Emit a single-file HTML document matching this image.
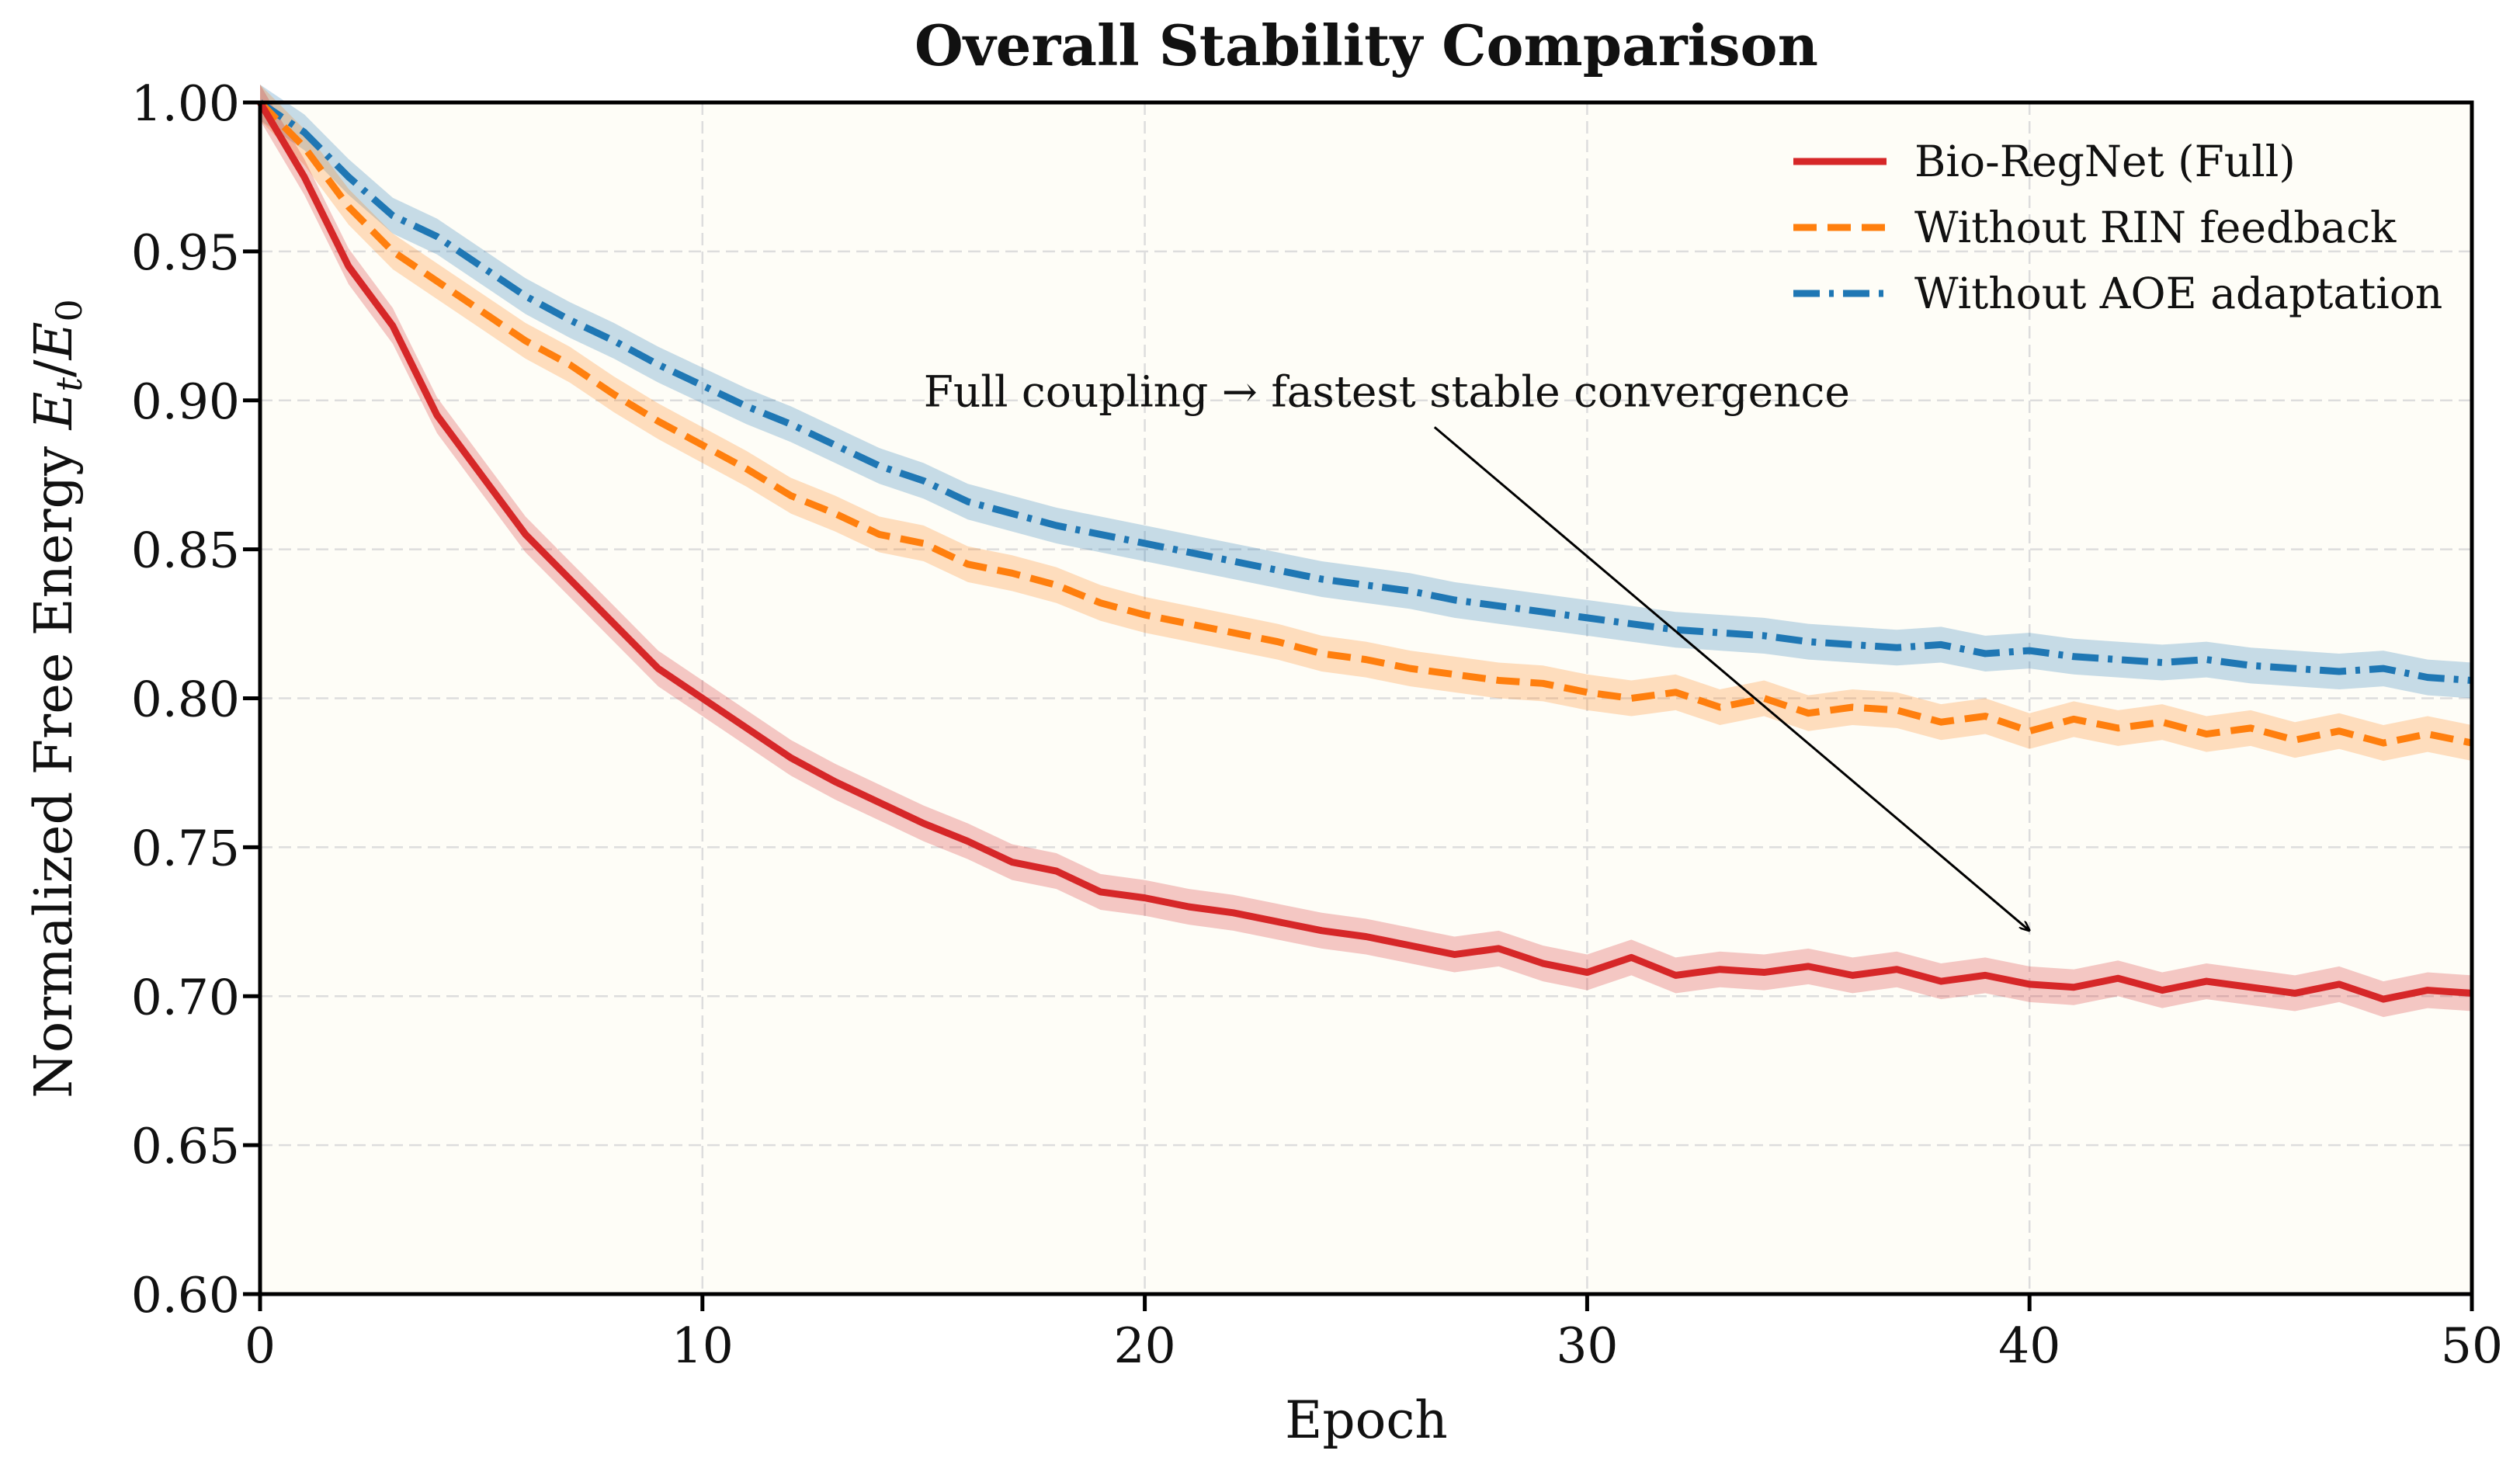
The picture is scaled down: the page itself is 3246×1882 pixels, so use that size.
<!DOCTYPE html>
<html><head><meta charset="utf-8"><style>
html,body{margin:0;padding:0;background:#fff}
svg{display:block}
text{font-family:"DejaVu Serif","Liberation Serif",serif;fill:#111}
</style></head><body>
<svg id="chart" width="3246" height="1882" viewBox="0 0 3246 1882">
<text x="1760" y="84" text-anchor="middle" font-size="72" font-weight="bold">Overall Stability Comparison</text>
<rect x="335" y="132" width="2849" height="1535" fill="#fefdf7"/>
<g id="grid"></g><g id="bands"></g><g id="lines"></g>
<g id="axes"></g>
<text x="1760" y="1852" text-anchor="middle" font-size="66">Epoch</text>
<text transform="translate(92,900) rotate(-90)" text-anchor="middle" font-size="67">Normalized Free Energy <tspan font-style="italic">E</tspan><tspan font-style="italic" font-size="46" dy="13">t</tspan><tspan dy="-13">/</tspan><tspan font-style="italic">E</tspan><tspan font-size="46" dy="13">0</tspan></text>
<g id="annot"></g>
<g id="legend"></g>
</svg>
<script>
const epochs=[];for(let i=0;i<=50;i++)epochs.push(i);
const fullVals=[1.00,0.975,0.945,0.925,0.895,0.875,0.855,0.84,0.825,0.81,0.80,0.79,0.78,0.772,0.765,0.758,0.752,0.745,0.742,0.735,0.733,0.730,0.728,0.725,0.722,0.72,0.717,0.714,0.716,0.711,0.708,0.713,0.707,0.709,0.708,0.710,0.707,0.709,0.705,0.707,0.704,0.703,0.706,0.702,0.705,0.703,0.701,0.704,0.699,0.702,0.701];
const noRinVals=[1.0,0.985,0.965,0.95,0.94,0.93,0.92,0.912,0.902,0.893,0.885,0.877,0.868,0.862,0.855,0.852,0.845,0.842,0.838,0.832,0.828,0.825,0.822,0.819,0.815,0.813,0.810,0.808,0.806,0.805,0.802,0.800,0.802,0.797,0.800,0.795,0.797,0.796,0.792,0.794,0.789,0.793,0.790,0.792,0.788,0.790,0.786,0.789,0.785,0.788,0.785];
const noAoeVals=[1.0,0.99,0.975,0.962,0.955,0.945,0.935,0.927,0.92,0.912,0.905,0.898,0.892,0.885,0.878,0.873,0.866,0.862,0.858,0.855,0.852,0.849,0.846,0.843,0.84,0.838,0.836,0.833,0.831,0.829,0.827,0.825,0.823,0.822,0.821,0.819,0.818,0.817,0.818,0.815,0.816,0.814,0.813,0.812,0.813,0.811,0.810,0.809,0.810,0.807,0.806];
const bandWidth=[0.006];
const xTicks=[0,10,20,30,40,50];
const yTicks=[0.60,0.65,0.70,0.75,0.80,0.85,0.90,0.95,1.00];
const NS='http://www.w3.org/2000/svg';
const X0=335,X1=3184,Y0=1667,Y1=132;
const xs=v=>X0+(v-0)/50*(X1-X0);
const ys=v=>Y0-(v-0.6)/0.4*(Y0-Y1);
function mk(tag,attrs,parent){const e=document.createElementNS(NS,tag);for(const k in attrs)e.setAttribute(k,attrs[k]);parent.appendChild(e);return e;}
const grid=document.getElementById('grid'),axes=document.getElementById('axes');
xTicks.forEach(t=>{
 const g=mk('line',{x1:xs(t),x2:xs(t),y1:Y1,y2:Y0,stroke:'#ddd',"stroke-width":2.5,"stroke-dasharray":'16 8'},grid);
 
 
 const tk=mk('line',{x1:xs(t),x2:xs(t),y1:Y0,y2:Y0+22,stroke:'#000',"stroke-width":5},axes);
 
 
 const tx=mk('text',{x:xs(t),y:Y0+88,"text-anchor":'middle',"font-size":63},axes);tx.textContent=t;
 
 
});
yTicks.forEach(t=>{
 const g=mk('line',{x1:X0,x2:X1,y1:ys(t),y2:ys(t),stroke:'#ddd',"stroke-width":2.5,"stroke-dasharray":'16 8'},grid);
 
 
 const tk=mk('line',{x1:X0-22,x2:X0,y1:ys(t),y2:ys(t),stroke:'#000',"stroke-width":5},axes);
 
 
 const tx=mk('text',{x:X0-26,y:ys(t)+23,"text-anchor":'end',"font-size":63},axes);tx.textContent=t.toFixed(2);
 
 
});
const frame=mk('rect',{x:X0,y:Y1,width:X1-X0,height:Y0-Y1,fill:'none',stroke:'#000',"stroke-width":5},axes);


const series=[
 {vals:noAoeVals,color:'#1f77b4',band:'#1f77b4',dash:'34 12 6 12',name:'without-aoe'},
 {vals:noRinVals,color:'#ff7f0e',band:'#ff7f0e',dash:'30 14',name:'without-rin'},
 {vals:fullVals,color:'#d62728',band:'#d62728',dash:'',name:'bio-regnet-full'}];
const bands=document.getElementById('bands'),lines=document.getElementById('lines');
series.forEach(s=>{
 let up=s.vals.map((v,i)=>xs(epochs[i])+','+ys(v+bandWidth[0])),dn=s.vals.map((v,i)=>xs(epochs[i])+','+ys(v-bandWidth[0])).reverse();
 const b=mk('polygon',{points:up.concat(dn).join(' '),fill:s.band,"fill-opacity":0.25},bands);
 
 
 const l=mk('polyline',{points:s.vals.map((v,i)=>xs(epochs[i])+','+ys(v)).join(' '),fill:'none',stroke:s.color,"stroke-width":9,"stroke-linejoin":'round'},lines);
 if(s.dash)l.setAttribute('stroke-dasharray',s.dash);
 
 
});
const an=document.getElementById('annot');
mk('defs',{},an).innerHTML='<marker id="ah" markerWidth="14" markerHeight="12" refX="13" refY="6" orient="auto" markerUnits="userSpaceOnUse"><path d="M0,0 L14,6 L0,12" fill="none" stroke="#000" stroke-width="2.5"/></marker>';
const at=mk('text',{x:xs(15),y:ys(0.898),"font-size":55},an);at.textContent='Full coupling → fastest stable convergence';


const ar=mk('line',{x1:xs(26.55),y1:ys(0.891),x2:xs(40),y2:ys(0.722),stroke:'#000',"stroke-width":3,"marker-end":'url(#ah)'},an);


const lg=document.getElementById('legend');
const legendLabels=['Bio-RegNet (Full)','Without RIN feedback','Without AOE adaptation'];
const legendColors=['#d62728','#ff7f0e','#1f77b4'];const legendDash=['','30 14','34 12 6 12'];
legendLabels.forEach((t,i)=>{
 const y=208+i*85;
 const l=mk('line',{x1:2310,x2:2430,y1:y,y2:y,stroke:legendColors[i],"stroke-width":9},lg);
 if(legendDash[i])l.setAttribute('stroke-dasharray',legendDash[i]);
 
 
 const tx=mk('text',{x:2466,y:y+19,"font-size":55},lg);tx.textContent=t;
 
 
});
</script>
</body></html>
